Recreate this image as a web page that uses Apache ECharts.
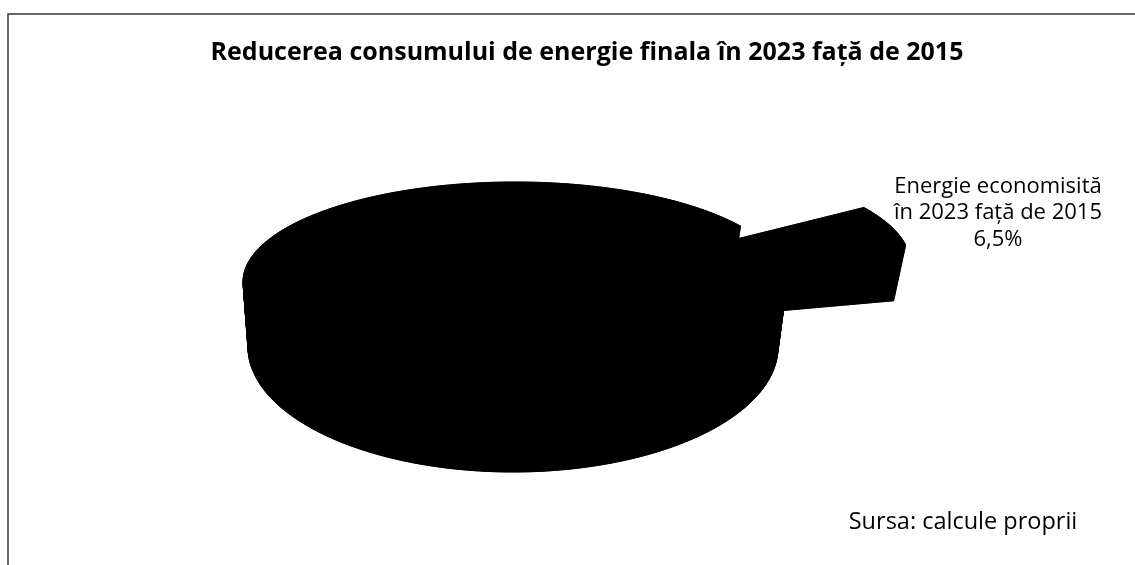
<!DOCTYPE html>
<html>
<head>
<meta charset="utf-8">
<script src="https://cdn.jsdelivr.net/npm/echarts@6/dist/echarts.min.js"></script>
<style>
  html, body { margin: 0; padding: 0; background: #fff; }
  #chart { width: 1135px; height: 565px; }
</style>
</head>
<body>
<div id="chart"></div>
<script>
// Shares of 2015 final energy consumption (percent)
const categories = ['Energie consumată în 2023', 'Energie economisită în 2023 față de 2015'];
const shares = [93.5, 6.5];
const explodedSlice = [false, true];
const savedLabelLines = ['Energie economisită', 'în 2023 față de 2015'];
const chartTitle = 'Reducerea consumului de energie finala în 2023 față de 2015';
const sourceNote = 'Sursa: calcule proprii';

const FONT = '"Open Sans", Lato, sans-serif';

// 3D pie geometry: top face ellipse, bottom face ellipse (perspective), start angle
const TOP = { cx: 515, cy: 282, rx: 272, ry: 100 };
const BOTTOM = { cx: 513, cy: 347, rx: 265, ry: 125 };
const START_DEG = 79.4;   // clockwise from 12 o'clock
const EXPLODE = 0.49;
const total = shares.reduce((a, b) => a + b, 0);

function pt(e, a, shift) {
  return [e.cx + e.rx * Math.sin(a) + shift[0], e.cy - e.ry * Math.cos(a) + shift[1]];
}
function arc(e, a0, a1, shift) {
  const pts = [];
  const n = Math.max(2, Math.ceil(Math.abs(a1 - a0) / (Math.PI / 180)));
  for (let i = 0; i <= n; i++) pts.push(pt(e, a0 + (a1 - a0) * i / n, shift));
  return pts;
}
function fmtPct(v) { return v.toFixed(1).replace('.', ',') + '%'; }

function renderSlice(params, api) {
  const idx = params.dataIndex;
  const value = api.value(0);
  let before = 0;
  for (let i = 0; i < idx; i++) before += shares[i];
  const a0 = (START_DEG + before / total * 360) * Math.PI / 180;
  const a1 = a0 + value / total * 2 * Math.PI;
  const mid = (a0 + a1) / 2;
  const k = explodedSlice[idx] ? EXPLODE : 0;
  const sT = [k * TOP.rx * Math.sin(mid), -k * TOP.ry * Math.cos(mid)];
  const sB = [k * BOTTOM.rx * Math.sin(mid), -k * BOTTOM.ry * Math.cos(mid)];
  const cT = [TOP.cx + sT[0], TOP.cy + sT[1]];
  const cB = [BOTTOM.cx + sB[0], BOTTOM.cy + sB[1]];
  const topArc = arc(TOP, a0, a1, sT);
  const botArc = arc(BOTTOM, a0, a1, sB);
  const style = { fill: '#000', stroke: '#000', lineWidth: 0.8 };
  const poly = (points) => ({ type: 'polygon', shape: { points }, style });
  const children = [poly([cB].concat(botArc))];
  // side wall as a strip of small quads
  for (let i = 0; i < topArc.length - 1; i++) {
    children.push(poly([topArc[i], topArc[i + 1], botArc[i + 1], botArc[i]]));
  }
  children.push(poly([cT, topArc[0], botArc[0], cB]));
  children.push(poly([cT, topArc[topArc.length - 1], botArc[botArc.length - 1], cB]));
  children.push(poly([cT].concat(topArc)));
  if (explodedSlice[idx]) {
    const outer = pt(TOP, mid, sT);
    children.push({
      type: 'text',
      x: outer[0] + 108,
      y: outer[1] - 52,
      style: {
        text: savedLabelLines.concat([fmtPct(value)]).join('\n'),
        align: 'center',
        verticalAlign: 'top',
        fontFamily: FONT,
        fontSize: 22,
        lineHeight: 26.5,
        fill: '#000'
      }
    });
  }
  return { type: 'group', children };
}

const chart = echarts.init(document.getElementById('chart'), null, { renderer: 'canvas' });
chart.setOption({
  backgroundColor: '#fff',
  animation: false,
  title: [
    {
      text: chartTitle,
      left: 582, top: 35, textAlign: 'center',
      textStyle: { fontFamily: FONT, fontWeight: 'bold', fontSize: 25, color: '#000' }
    },
    {
      text: sourceNote,
      left: 958, top: 505, textAlign: 'center',
      textStyle: { fontFamily: FONT, fontWeight: 'normal', fontSize: 23.5, color: '#000' }
    }
  ],
  graphic: [{
    type: 'rect',
    shape: { x: 8, y: 14, width: 1140, height: 600 },
    style: { fill: 'none', stroke: '#333', lineWidth: 1.5 },
    silent: true
  }],
  series: [{
    type: 'custom',
    coordinateSystem: 'none',
    renderItem: renderSlice,
    data: shares.map((v, i) => ({ name: categories[i], value: [v, i] }))
  }]
});
</script>
</body>
</html>
